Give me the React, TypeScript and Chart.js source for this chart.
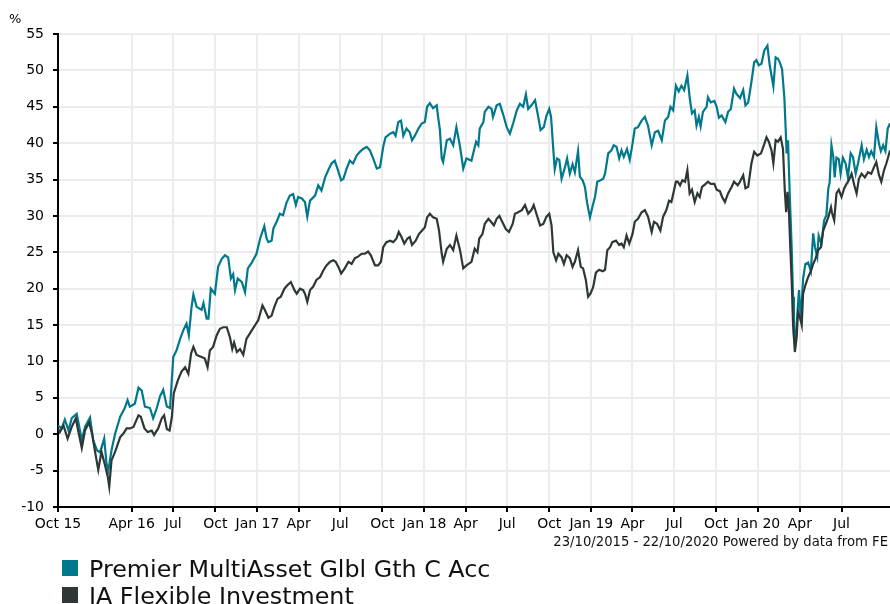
import React, { useEffect, useRef } from "react";
import { Chart, registerables } from "chart.js";

Chart.register(...registerables);

// ---- Data -------------------------------------------------------------
const startDate = "2015-10-23";
const xMaxDay = 1819;
const yMin = -10;
const yMax = 55;
const yStep = 5;

const tickDates = [
  "2015-10-23", "2016-04-01", "2016-07-01", "2016-10-01",
  "2017-01-01", "2017-04-01", "2017-07-01", "2017-10-01",
  "2018-01-01", "2018-04-01", "2018-07-01", "2018-10-01",
  "2019-01-01", "2019-04-01", "2019-07-01", "2019-10-01",
  "2020-01-01", "2020-04-01", "2020-07-01",
];
const tickLabels = [
  "Oct 15", "Apr 16", "Jul", "Oct",
  "Jan 17", "Apr", "Jul", "Oct",
  "Jan 18", "Apr", "Jul", "Oct",
  "Jan 19", "Apr", "Jul", "Oct",
  "Jan 20", "Apr", "Jul",
];

const seriesNames = ["Premier MultiAsset Glbl Gth C Acc", "IA Flexible Investment"];
const seriesColors = ["#00798c", "#2d3735"];
const footerText = "23/10/2015 - 22/10/2020 Powered by data from FE";

// days since 23/10/2015
const premierDays = [
  0, 8, 15, 23, 30, 41, 52, 59, 70, 77, 85, 92, 101, 106, 110, 117, 125, 136, 146, 152,
  157, 168, 176, 183, 190, 201, 208, 216, 223, 230, 238, 245, 252, 259, 267, 274, 281, 286, 292, 296,
  303, 314, 318, 325, 329, 334, 343, 350, 358, 365, 372, 378, 383, 387, 393, 402, 409, 415, 423, 434,
  442, 451, 456,
  460, 467, 471, 478, 485, 492, 500, 507, 514, 520, 525, 533, 540, 545, 551, 562, 569, 576, 584, 591,
  598, 605, 611, 619, 624, 631, 638, 645, 653, 660, 667, 675, 682, 689, 697, 704, 711, 716, 726, 733,
  738, 744, 750, 755, 762, 769, 774, 780, 788, 795, 802, 807, 813, 820, 828, 831, 835, 839, 842, 850,
  857, 864, 871, 879, 886, 893, 904,
  914, 919, 922, 930, 933, 941, 948, 951, 959, 966, 973, 981, 988, 995, 1003, 1010, 1017, 1023, 1028, 1035,
  1043, 1050, 1055, 1062, 1068, 1074, 1078, 1083, 1086, 1091, 1096, 1101, 1108, 1113, 1119, 1125, 1130, 1137, 1141, 1147,
  1152, 1157, 1163, 1169, 1174, 1179, 1186, 1192, 1196, 1203, 1210, 1215, 1221, 1227, 1232, 1237, 1244, 1250, 1256, 1261,
  1268, 1276, 1283, 1290, 1298, 1305, 1312, 1320, 1327, 1334, 1339, 1345, 1351,
  1357, 1363, 1369, 1376, 1381, 1386, 1392, 1396, 1401, 1405, 1410, 1418, 1421, 1427, 1435, 1440, 1445, 1451, 1459, 1465,
  1471, 1478, 1483, 1491, 1498, 1503, 1509, 1516, 1522, 1527, 1532, 1538, 1544, 1551, 1556, 1564, 1569, 1574, 1578, 1583,
  1588, 1591, 1593, 1596, 1600, 1604, 1607, 1609, 1612, 1616, 1620, 1624, 1629, 1634, 1640, 1646, 1651, 1655, 1660, 1663,
  1669, 1675, 1680, 1684, 1687, 1691, 1695, 1698, 1702, 1707, 1711, 1716, 1722, 1727, 1733, 1738, 1744, 1749, 1757, 1762,
  1768, 1773, 1778, 1784, 1789, 1795, 1799, 1804, 1809, 1814, 1819,
];
const premierValues = [
  1.2, 0.8, 2.0, 0.5, 2.2, 2.8, -0.8, 1.0, 2.3, -0.8, -2.2, -2.5, -0.6, -4.0, -5.0, -2.2, 0.1, 2.4, 3.6, 4.7,
  3.8, 4.2, 6.4, 6.0, 3.8, 3.6, 2.2, 3.6, 5.2, 6.1, 3.8, 3.6, 10.6, 11.5, 13.1, 14.3, 15.2, 13.6, 17.5, 19.2,
  17.5, 17.1, 18.0, 15.9, 15.9, 20.0, 19.3, 23.0, 24.1, 24.6, 24.3, 21.4, 22.0, 19.8, 21.4, 20.9, 19.5, 22.8, 23.5, 24.8,
  26.9, 28.6, 26.9,
  26.4, 26.6, 28.3, 29.2, 30.3, 30.1, 31.9, 32.8, 33.0, 31.5, 32.6, 32.4, 31.9, 29.9, 32.1, 32.8, 34.2, 33.5, 35.3, 36.3,
  37.2, 37.6, 36.5, 34.9, 35.1, 36.5, 37.6, 37.2, 38.3, 38.8, 39.2, 39.5, 39.0, 37.9, 36.5, 36.7, 39.5, 40.8, 41.3, 41.5,
  41.0, 42.9, 43.1, 41.0, 42.0, 41.5, 40.4, 41.0, 42.0, 42.7, 42.9, 45.0, 45.5, 44.8, 45.2, 43.6, 41.8, 37.9, 37.4, 40.4,
  40.6, 39.7, 42.2, 39.5, 36.5, 37.9, 37.6,
  40.2, 39.7, 42.0, 42.9, 44.3, 45.0, 44.7, 43.6, 45.2, 45.4, 44.0, 42.2, 41.3, 42.7, 44.5, 45.4, 45.0, 46.7, 44.7, 45.2,
  45.9, 43.6, 41.8, 42.2, 43.8, 44.7, 43.6, 39.0, 36.4, 37.9, 37.7, 35.1, 36.6, 37.9, 35.8, 37.1, 36.0, 38.9, 35.4, 34.9,
  34.0, 31.7, 29.8, 31.4, 32.6, 34.7, 34.9, 35.1, 35.8, 38.6, 39.0, 39.7, 39.5, 37.9, 39.0, 38.1, 39.2, 37.7, 39.9, 42.0,
  42.2, 43.1, 43.6, 42.4, 39.7, 41.5, 41.7, 40.4, 43.1, 43.6, 45.0, 44.5, 47.9,
  47.1, 47.9, 47.3, 49.3, 46.3, 44.1, 44.5, 42.4, 43.6, 42.3, 44.3, 45.0, 46.3, 45.6, 45.8, 45.0, 43.5, 43.8, 42.9, 44.3,
  44.7, 47.5, 46.8, 46.2, 47.3, 45.2, 45.6, 48.4, 51.1, 51.4, 50.7, 50.9, 52.7, 53.4, 50.7, 47.8, 51.8, 51.6, 51.1, 50.2,
  46.3, 41.8, 38.6, 40.4, 32.6, 25.7, 18.9, 13.4, 12.7, 16.1, 19.8, 15.7, 21.4, 23.4, 23.6, 22.4, 27.6, 25.7, 24.4, 27.3,
  26.2, 29.4, 30.1, 33.7, 34.6, 39.7, 38.1, 35.3, 38.0, 37.8, 35.8, 38.0, 37.2, 35.3, 38.6, 38.1, 35.8, 37.2, 39.7, 37.8,
  39.1, 38.1, 38.9, 38.1, 42.2, 39.9, 38.9, 39.7, 38.9, 42.0, 42.7,
];

const flexibleDays = [
  0, 4, 12, 21, 30, 39, 44, 52, 59, 68, 75, 81, 88, 95, 103, 109, 112, 117, 125, 136,
  143, 150, 157, 165, 176, 181, 189, 196, 205, 210, 219, 227, 232, 238, 244, 249, 253, 262, 270, 278,
  285, 291, 296, 303, 314, 321, 327, 332, 339, 347, 354, 361, 369, 376, 381, 385, 391, 398, 405, 412,
  422, 431, 438, 447, 452,
  460, 467, 473, 480, 487, 495, 502, 509, 517, 522, 529, 536, 540, 545, 551, 558, 565, 573, 580, 587,
  595, 602, 607, 613, 619, 627, 635, 642, 649, 656, 664, 671, 678, 684, 693, 700, 706, 711, 718, 726,
  733, 740, 745, 751, 757, 764, 769, 774, 782, 789, 796, 802, 807, 813, 820, 828, 833, 839, 842, 850,
  857, 864, 871, 879, 886, 893, 904, 911,
  917, 921, 928, 933, 941, 948, 953, 959, 965, 972, 979, 986, 994, 999, 1006, 1014, 1021, 1028, 1035, 1040,
  1046, 1054, 1061, 1068, 1074, 1079, 1083, 1089, 1094, 1101, 1106, 1112, 1119, 1125, 1130, 1137, 1143, 1148, 1154, 1159,
  1164, 1170, 1176, 1183, 1191, 1196, 1201, 1207, 1212, 1220, 1227, 1232, 1237, 1243, 1249, 1256, 1261, 1268, 1276, 1283,
  1290, 1298, 1303, 1310, 1317, 1323, 1330, 1336, 1341, 1346, 1351,
  1355, 1360, 1365, 1371, 1376, 1381, 1386, 1392, 1398, 1403, 1408, 1416, 1421, 1427, 1435, 1440, 1447, 1452, 1458, 1465,
  1473, 1478, 1486, 1491, 1498, 1503, 1509, 1516, 1522, 1529, 1537, 1542, 1549, 1554, 1560, 1564, 1569, 1574, 1580, 1585,
  1589, 1592, 1595, 1598, 1601, 1604, 1607, 1611, 1615, 1618, 1622, 1626, 1629, 1634, 1640, 1646, 1651, 1656, 1662, 1668,
  1673, 1678, 1684, 1690, 1692, 1697, 1702, 1707, 1713, 1719, 1724, 1729, 1735, 1741, 1746, 1751, 1757, 1764, 1771, 1778,
  1784, 1789, 1795, 1800, 1806, 1811, 1819,
];
const flexibleValues = [
  0.8, 0.3, 1.2, -0.6, 1.0, 2.2, 0.5, -1.9, 0.5, 1.6, -0.1, -2.4, -4.9, -2.4, -4.3, -5.9, -7.2, -3.6, -2.4, -0.4,
  0.1, 0.8, 0.8, 1.0, 2.6, 2.4, 0.8, 0.3, 0.5, -0.1, 0.8, 2.2, 2.6, 0.7, 0.5, 2.4, 5.6, 7.4, 8.6, 9.2,
  8.3, 11.1, 12.0, 10.9, 10.6, 10.4, 9.2, 11.5, 12.0, 13.6, 14.5, 14.7, 14.7, 13.3, 11.7, 12.6, 11.3, 11.7, 10.9, 13.1,
  14.1, 15.0, 15.7, 17.7, 17.1,
  16.0, 16.3, 17.5, 18.6, 18.9, 20.0, 20.5, 20.9, 19.8, 19.3, 20.0, 19.8, 19.3, 18.2, 19.8, 20.3, 21.2, 21.6, 22.5, 23.2,
  23.7, 23.9, 23.7, 23.0, 22.1, 22.8, 23.7, 23.4, 24.2, 24.4, 24.8, 24.8, 25.1, 24.6, 23.2, 23.2, 23.7, 25.7, 26.4, 26.6,
  26.4, 26.9, 27.8, 27.1, 26.2, 26.9, 27.1, 26.0, 26.6, 27.5, 28.0, 28.4, 29.8, 30.3, 29.8, 29.6, 28.0, 24.8, 23.7, 25.5,
  26.0, 25.3, 27.3, 25.3, 22.8, 23.2, 23.7, 25.5,
  25.0, 26.9, 27.5, 28.9, 29.6, 29.1, 28.7, 29.6, 30.0, 29.1, 28.2, 27.8, 28.9, 30.3, 30.5, 30.8, 31.5, 30.3, 30.8, 31.5,
  30.3, 28.7, 28.9, 29.9, 30.3, 28.7, 25.0, 23.9, 24.8, 24.3, 23.4, 24.6, 24.2, 23.0, 23.7, 25.3, 23.0, 22.8, 21.2, 18.9,
  19.3, 20.2, 22.2, 22.6, 22.4, 22.6, 25.3, 25.7, 26.4, 26.6, 26.0, 26.2, 25.7, 27.3, 26.2, 27.5, 29.2, 29.6, 30.5, 30.8,
  29.9, 27.8, 29.2, 28.9, 28.0, 29.9, 30.8, 32.1, 31.9, 33.3, 34.7,
  34.7, 34.2, 34.9, 34.7, 36.3, 33.1, 33.6, 31.9, 33.1, 32.6, 34.0, 34.4, 34.7, 34.4, 34.4, 33.6, 33.4, 32.6, 31.9, 33.1,
  34.0, 34.7, 34.2, 34.7, 35.6, 33.8, 34.0, 37.2, 38.8, 38.3, 38.6, 39.5, 40.8, 40.2, 39.0, 37.2, 40.4, 40.2, 40.8, 39.2,
  33.5, 30.5, 33.3, 30.7, 25.7, 21.2, 15.2, 11.3, 13.4, 16.8, 16.1, 15.0, 19.3, 20.5, 21.6, 22.4, 23.4, 24.1, 25.3, 25.7,
  28.0, 28.8, 29.8, 31.2, 30.5, 29.4, 33.1, 33.6, 32.6, 33.8, 34.4, 34.9, 35.8, 34.2, 33.1, 35.1, 35.8, 35.3, 36.0, 35.8,
  36.7, 37.4, 35.6, 34.7, 36.3, 37.2, 39.0,
];

// ---- Helpers ------------------------------------------------------------
function dayOffset(d: string): number {
  const [y, m, dd] = d.split("-").map(Number);
  const [sy, sm, sd] = startDate.split("-").map(Number);
  return Math.round((Date.UTC(y, m - 1, dd) - Date.UTC(sy, sm - 1, sd)) / 86400000);
}

const FONT = '"DejaVu Sans", Verdana, sans-serif';

const overlayPlugin = {
  id: "overlay",
  afterDraw(chart: any) {
    const ctx = chart.ctx as CanvasRenderingContext2D;
    ctx.save();
    ctx.textBaseline = "alphabetic";
    // unit label
    ctx.fillStyle = "#000";
    ctx.font = `13px ${FONT}`;
    ctx.textAlign = "left";
    ctx.fillText("%", 9, 23);
    // footer
    ctx.font = `13.2px ${FONT}`;
    ctx.textAlign = "right";
    ctx.fillStyle = "#111";
    ctx.fillText(footerText, 888, 546);
    // legend
    chart.data.datasets.forEach((ds: any, i: number) => {
      const top = 560 + i * 27;
      ctx.fillStyle = ds.borderColor;
      ctx.fillRect(62, top, 16, 16);
      ctx.fillStyle = "#111";
      ctx.font = `23.8px ${FONT}`;
      ctx.textAlign = "left";
      ctx.fillText(ds.label, 89, top + 17);
    });
    ctx.restore();
  },
};

export default function App() {
  const canvasRef = useRef<HTMLCanvasElement | null>(null);

  useEffect(() => {
    if (!canvasRef.current) return;
    const tickDays = tickDates.map(dayOffset);
    const premier = premierDays.map((d, i) => ({ x: d, y: premierValues[i] }));
    const flexible = flexibleDays.map((d, i) => ({ x: d, y: flexibleValues[i] }));

    const chart = new Chart(canvasRef.current, {
      type: "line",
      data: {
        datasets: [
          {
            label: seriesNames[0],
            data: premier,
            borderColor: seriesColors[0],
            backgroundColor: seriesColors[0],
            borderWidth: 2.2,
            pointRadius: 0,
            tension: 0,
            order: 2,
          },
          {
            label: seriesNames[1],
            data: flexible,
            borderColor: seriesColors[1],
            backgroundColor: seriesColors[1],
            borderWidth: 2.2,
            pointRadius: 0,
            tension: 0,
            order: 1,
          },
        ],
      },
      options: {
        responsive: false,
        animation: false,
        events: [],
        layout: { padding: { top: 34, left: 0, right: 0, bottom: 0 } },
        plugins: {
          legend: { display: false },
          tooltip: { enabled: false },
        },
        scales: {
          x: {
            type: "linear",
            min: 0,
            max: xMaxDay,
            afterBuildTicks: (scale: any) => {
              scale.ticks = tickDays.map((v) => ({ value: v }));
            },
            afterFit: (scale: any) => {
              scale.height = 97;
            },
            ticks: {
              autoSkip: false,
              maxRotation: 0,
              minRotation: 0,
              padding: 4,
              color: "#000",
              font: { family: FONT, size: 14 },
              callback: (value: any) => {
                const idx = tickDays.indexOf(Number(value));
                return idx >= 0 ? tickLabels[idx] : "";
              },
            },
            grid: {
              color: "#ececec",
              lineWidth: 2,
              drawTicks: true,
              tickLength: 5,
              tickWidth: 2,
              tickColor: "#000",
            },
            border: { display: true, color: "#000", width: 2 },
          },
          y: {
            type: "linear",
            min: yMin,
            max: yMax,
            afterFit: (scale: any) => {
              scale.width = 58;
            },
            ticks: {
              stepSize: yStep,
              padding: 9,
              color: "#000",
              font: { family: FONT, size: 14 },
            },
            grid: {
              color: "#ececec",
              lineWidth: 2,
              drawTicks: true,
              tickLength: 5,
              tickWidth: 2,
              tickColor: "#000",
            },
            border: { display: true, color: "#000", width: 2 },
          },
        },
      },
      plugins: [overlayPlugin],
    } as any);

    return () => {
      chart.destroy();
    };
  }, []);

  return (
    <div style={{ position: "absolute", left: 0, top: 0, width: 890, height: 604, background: "#fff" }}>
      <canvas ref={canvasRef} width={890} height={604} style={{ display: "block", width: 890, height: 604 }} />
    </div>
  );
}
